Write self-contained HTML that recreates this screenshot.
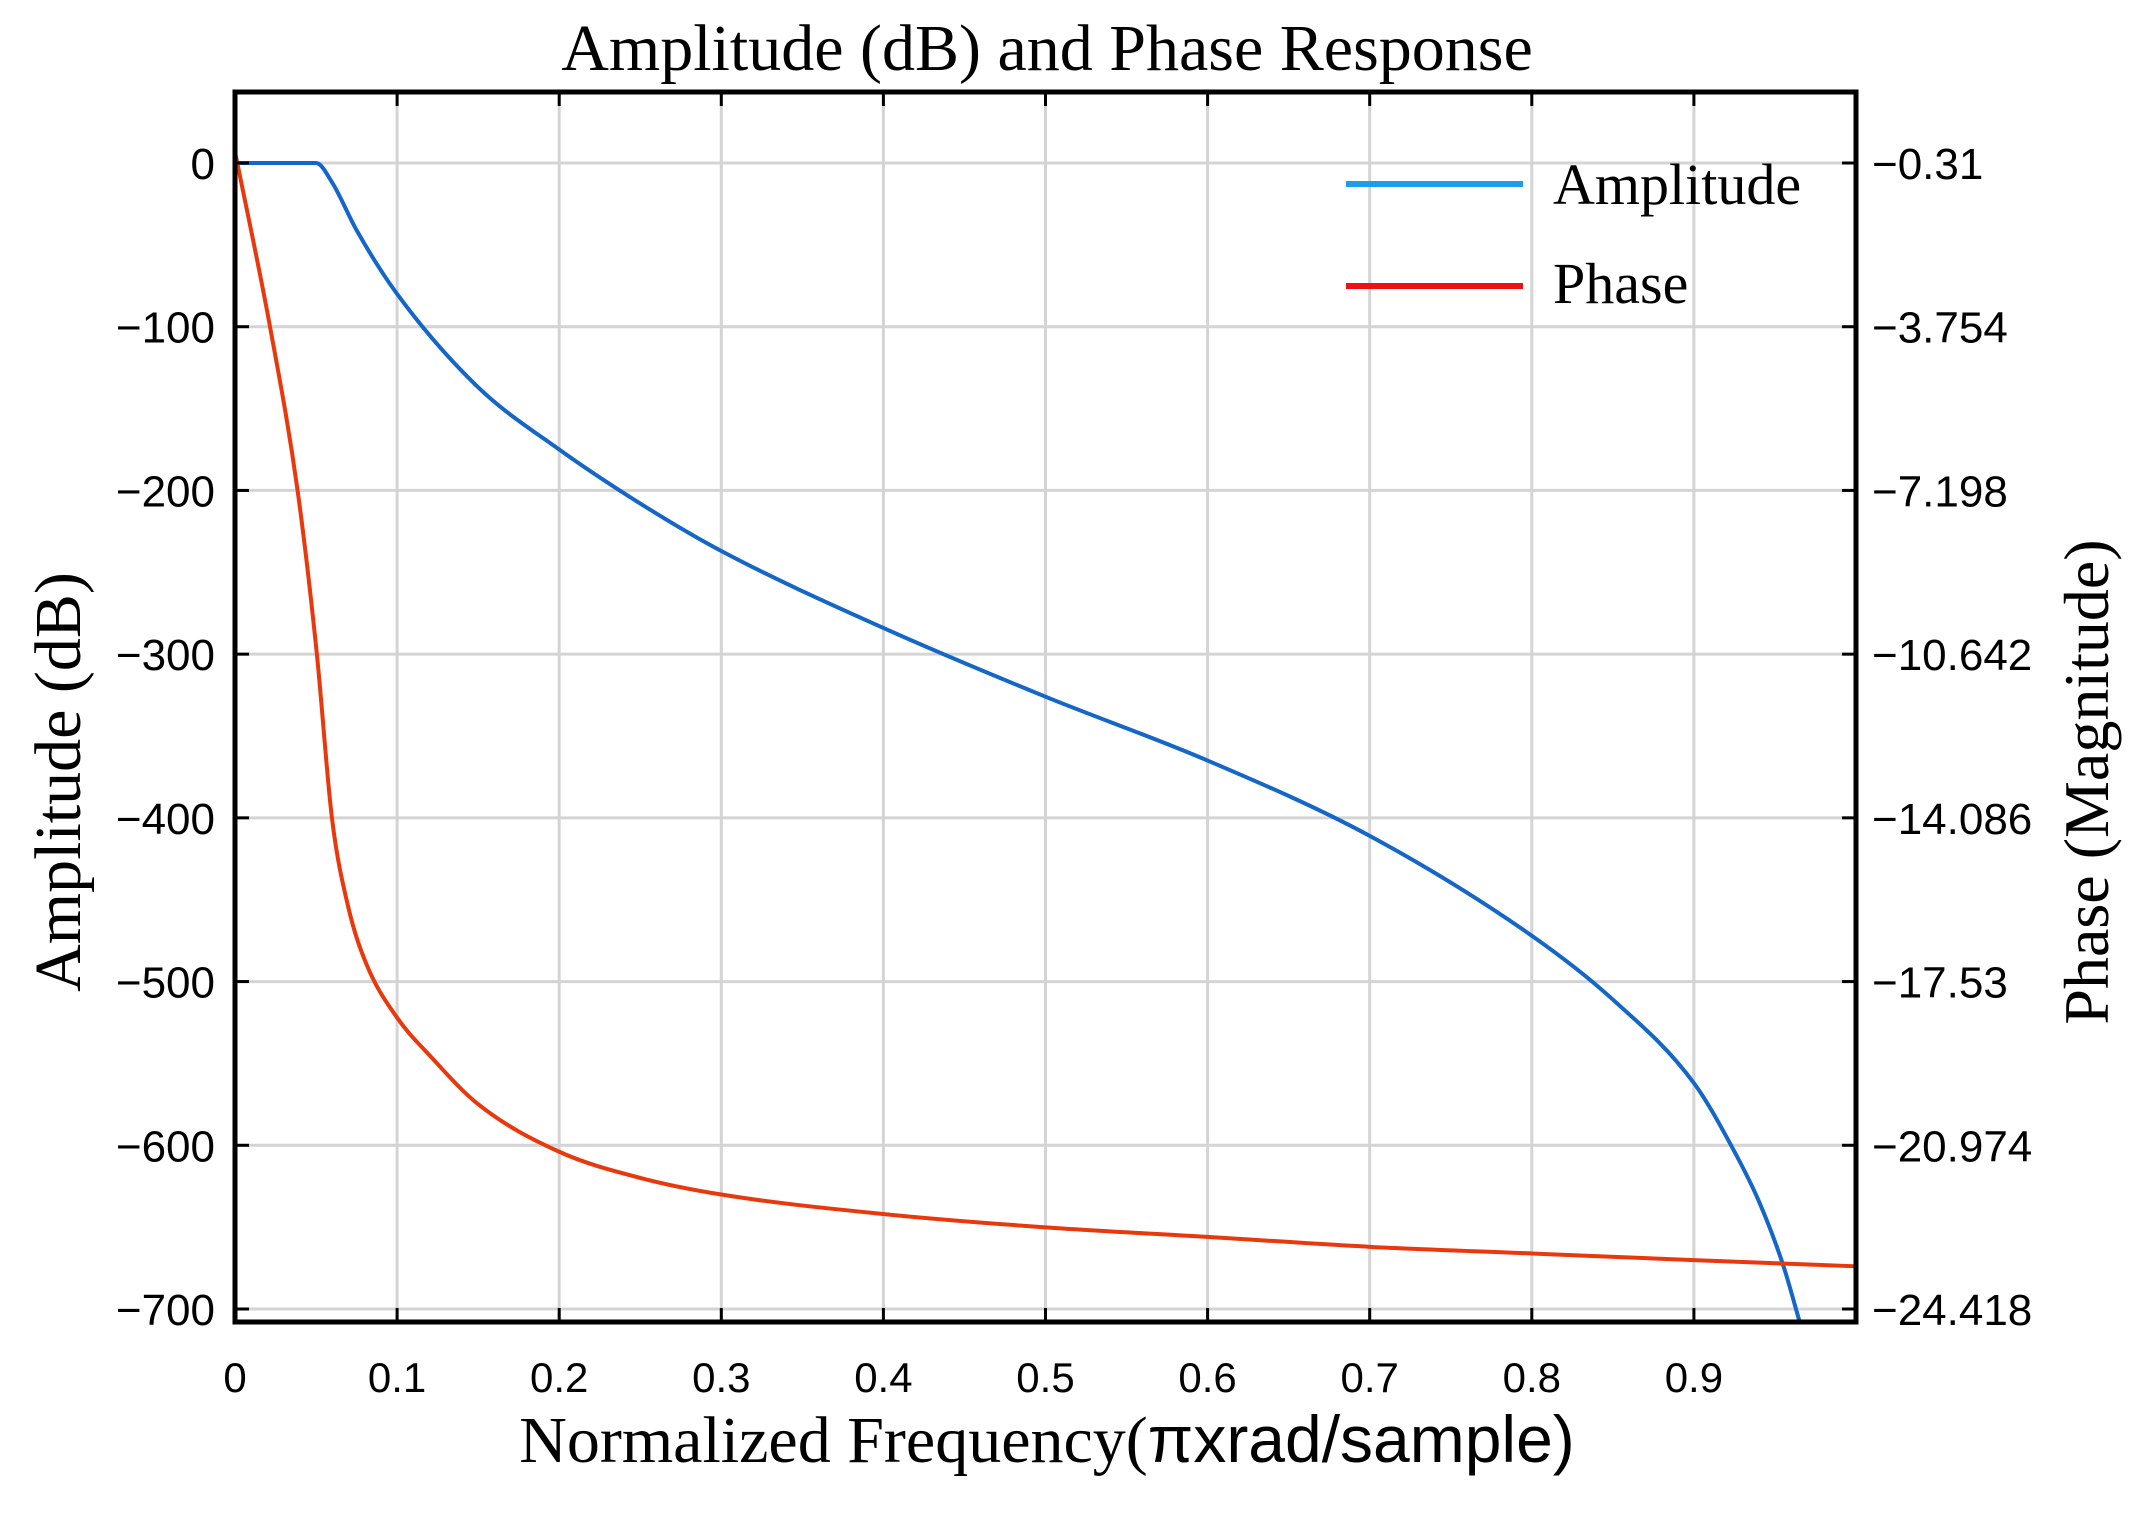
<!DOCTYPE html>
<html><head><meta charset="utf-8"><style>
html,body{margin:0;padding:0;background:#fff;}
svg{display:block;}
</style></head><body>
<svg id="chart" width="2132" height="1516" viewBox="0 0 2132 1516" xmlns="http://www.w3.org/2000/svg">
<text x="1047" y="70" text-anchor="middle" font-family="Liberation Serif, serif" font-size="66">Amplitude (dB) and Phase Response</text>
<g id="grid"></g>
<g id="series"></g>
<rect x="235" y="92" width="1621" height="1230" fill="none" stroke="#000" stroke-width="5"/>
<g id="ticks"></g>
<text x="1047" y="1462" text-anchor="middle" font-size="66"><tspan font-family="Liberation Serif, serif">Normalized Frequency(</tspan><tspan font-family="Liberation Sans, sans-serif">πxrad/sample)</tspan></text>
<text transform="translate(80,782) rotate(-90)" text-anchor="middle" font-family="Liberation Serif, serif" font-size="66">Amplitude (dB)</text>
<text transform="translate(2108,782) rotate(-90)" text-anchor="middle" font-family="Liberation Serif, serif" font-size="64">Phase (Magnitude)</text>
<g>
<line x1="1346" y1="184" x2="1523" y2="184" stroke="#1aa0e6" stroke-width="6"/>
<text x="1553" y="204" font-family="Liberation Serif, serif" font-size="58">Amplitude</text>
<line x1="1346" y1="286" x2="1523" y2="286" stroke="#f01010" stroke-width="6"/>
<text x="1553" y="303" font-family="Liberation Serif, serif" font-size="58">Phase</text>
</g>
</svg>
<script>
const xTicks = [0,0.1,0.2,0.3,0.4,0.5,0.6,0.7,0.8,0.9];
const yTicks = [0,-100,-200,-300,-400,-500,-600,-700];
const y2Ticks = ["-0.31","-3.754","-7.198","-10.642","-14.086","-17.53","-20.974","-24.418"];
const ampX = [0,0.05,0.06,0.075,0.1,0.15,0.2,0.25,0.3,0.4,0.5,0.6,0.7,0.8,0.85,0.9,0.924,0.94,0.955,0.965];
const ampY = [0,0,-12,-41,-80,-137,-175,-208,-237,-284,-326,-365,-411,-472,-511,-562,-602,-634,-673,-707];
const phaseX = [0,0.0216,0.0386,0.0505,0.0598,0.07,0.0814,0.1,0.12,0.15,0.2,0.25,0.3,0.4,0.5,0.6,0.7,0.8,0.9,1.0];
const phaseY = [-0.07,-3.754,-7.198,-10.642,-14.086,-15.98,-17.19,-18.29,-19.08,-20.11,-21.11,-21.66,-22.01,-22.42,-22.70,-22.90,-23.11,-23.25,-23.39,-23.52];

const NS="http://www.w3.org/2000/svg";
const L=235,R=1856,T=92,B=1322;
const xs=v=>L+(R-L)*v;
const ys=v=>163+(v/-700)*(1309-163);
const y2s=v=>ys((v+0.31)/3.444*100);
function mk(tag,attrs,parent){const e=document.createElementNS(NS,tag);for(const k in attrs)e.setAttribute(k,attrs[k]);parent.appendChild(e);return e;}
const grid=document.getElementById('grid'),ticks=document.getElementById('ticks'),series=document.getElementById('series');
xTicks.forEach(v=>{
  if(v>0){const g=mk('line',{x1:xs(v),x2:xs(v),y1:T,y2:B,stroke:'#d4d4d4','stroke-width':3},grid);
  
  }
  const t=mk('line',{x1:xs(v),x2:xs(v),y1:B,y2:B-14,stroke:'#000','stroke-width':3},ticks);
  
  
  const t2=mk('line',{x1:xs(v),x2:xs(v),y1:T,y2:T+14,stroke:'#000','stroke-width':3},ticks);
  
  
  const l=mk('text',{x:xs(v),y:1392,'text-anchor':'middle','font-family':'Liberation Sans, sans-serif','font-size':42},ticks);
  l.textContent=String(v);
  
  
});
yTicks.forEach((v,i)=>{
  const y=ys(v);
  const g=mk('line',{x1:L,x2:R,y1:y,y2:y,stroke:'#d4d4d4','stroke-width':3},grid);
  
  
  const t=mk('line',{x1:L,x2:L+14,y1:y,y2:y,stroke:'#000','stroke-width':3},ticks);
  
  
  const t2=mk('line',{x1:R,x2:R-14,y1:y,y2:y,stroke:'#000','stroke-width':3},ticks);
  
  
  const l=mk('text',{x:215,y:y+16,'text-anchor':'end','font-family':'Liberation Sans, sans-serif','font-size':44},ticks);
  l.textContent=v===0?'0':'\u2212'+Math.abs(v);
  
  
  const l2=mk('text',{x:1872,y:y+16,'font-family':'Liberation Sans, sans-serif','font-size':44},ticks);
  l2.textContent='\u2212'+y2Ticks[i].replace('-','');
  
  
});
// monotone cubic (Fritsch-Carlson) path
function monotone(px,py){
  const n=px.length,d=[],m=new Array(n);
  for(let i=0;i<n-1;i++)d.push((py[i+1]-py[i])/(px[i+1]-px[i]));
  m[0]=d[0];m[n-1]=d[n-2];
  for(let i=1;i<n-1;i++){m[i]=(d[i-1]*d[i]<=0)?0:(d[i-1]+d[i])/2;}
  for(let i=0;i<n-1;i++){
    if(d[i]===0){m[i]=0;m[i+1]=0;continue;}
    const a=m[i]/d[i],b=m[i+1]/d[i],s=a*a+b*b;
    if(s>9){const t=3/Math.sqrt(s);m[i]=t*a*d[i];m[i+1]=t*b*d[i];}
  }
  let p='M'+px[0]+','+py[0];
  for(let i=0;i<n-1;i++){
    const h=(px[i+1]-px[i])/3;
    p+=' C'+(px[i]+h)+','+(py[i]+m[i]*h)+' '+(px[i+1]-h)+','+(py[i+1]-m[i+1]*h)+' '+px[i+1]+','+py[i+1];
  }
  return p;
}
const ap=mk('path',{d:monotone(ampX.map(xs),ampY.map(ys)),fill:'none',stroke:'#1466c8','stroke-width':4},series);


const pp=mk('path',{d:monotone(phaseX.map(xs),phaseY.map(y2s)),fill:'none',stroke:'#e8380c','stroke-width':4},series);


</script>
</body></html>
